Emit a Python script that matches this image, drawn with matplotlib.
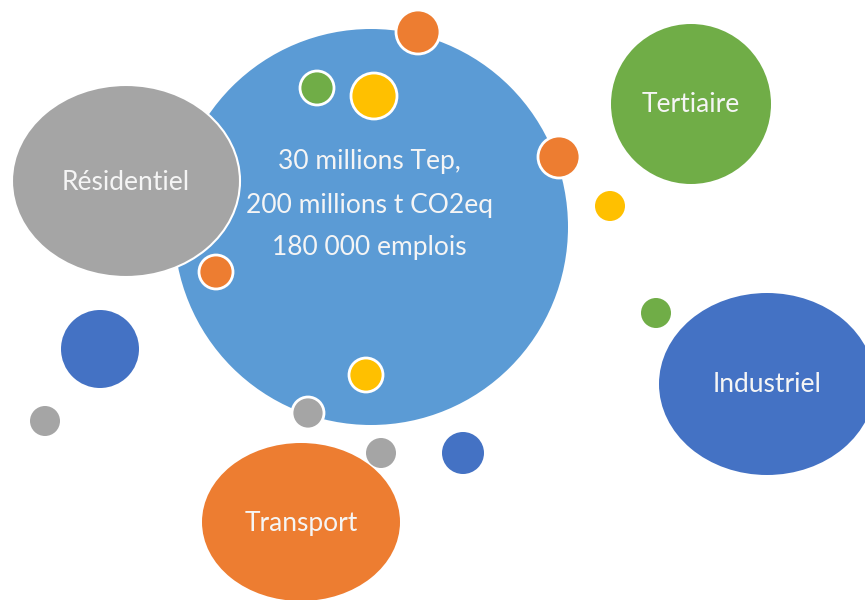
import matplotlib.pyplot as plt
from matplotlib.patches import Ellipse

plt.rcParams['font.family'] = ['Lato', 'DejaVu Sans']

BLUE = '#5B9BD5'
GREY = '#A5A5A5'
GREEN = '#70AD47'
ORANGE = '#ED7D31'
YELLOW = '#FFC000'
DARK_BLUE = '#4472C4'

# main sector bubbles: centre, diameters and colour
sector_names = ['', 'Résidentiel', 'Tertiaire', 'Industriel', 'Transport']
sector_x = [371, 126, 691, 767, 301]
sector_y = [227, 181, 104, 384, 522]
sector_w = [394, 228, 160, 216, 198]
sector_h = [396, 192, 160, 182, 158]
sector_colors = [BLUE, GREY, GREEN, DARK_BLUE, ORANGE]
sector_edges = [False, True, False, False, False]

center_text = ['30 millions Tep,', '200 millions t CO2eq', '180 000 emplois']
center_text_y = [162, 205, 247]

# small satellite bubbles
dot_x = [418, 317, 374, 559, 610, 216, 656, 100, 45, 366, 308, 381, 463]
dot_y = [32, 88, 96, 157, 206, 272, 313, 349, 421, 375, 413, 453, 453]
dot_r = [22, 17, 23, 21, 15, 17, 15, 39, 15, 17, 16, 15, 21]
dot_colors = [ORANGE, GREEN, YELLOW, ORANGE, YELLOW, ORANGE, GREEN,
              DARK_BLUE, GREY, YELLOW, GREY, GREY, DARK_BLUE]
dot_edges = [True, True, True, True, False, True, False,
             False, False, True, True, False, False]

fig = plt.figure(figsize=(8.65, 6.0), dpi=100)
ax = fig.add_axes([0, 0, 1, 1])
ax.set_xlim(0, 865)
ax.set_ylim(600, 0)
ax.set_aspect('equal')
ax.axis('off')

for name, x, y, w, h, c, e in zip(sector_names, sector_x, sector_y, sector_w,
                                   sector_h, sector_colors, sector_edges):
    ax.add_patch(Ellipse((x, y), w, h, facecolor=c,
                         edgecolor='white' if e else 'none', linewidth=1.5))
    if name:
        ax.text(x, y + 1, name, color='#F5F5F5', fontsize=19,
                ha='center', va='center')

for t, ty in zip(center_text, center_text_y):
    ax.text(sector_x[0] - 2, ty, t, color='#F5F5F5', fontsize=19,
            ha='center', va='center')

for x, y, r, c, e in zip(dot_x, dot_y, dot_r, dot_colors, dot_edges):
    ax.add_patch(Ellipse((x, y), 2 * r, 2 * r, facecolor=c,
                         edgecolor='white' if e else 'none', linewidth=2))

fig.savefig('out.png', dpi=100)
